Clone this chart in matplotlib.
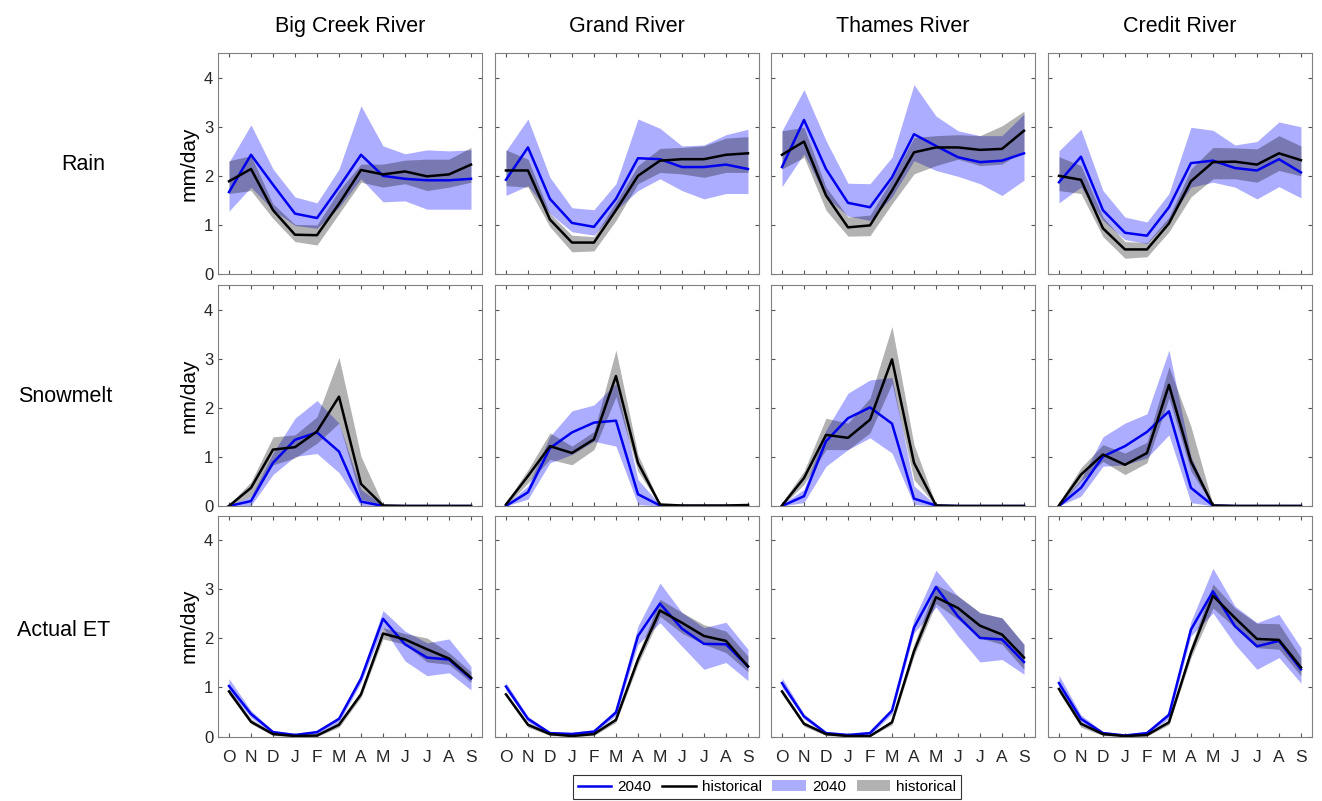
import matplotlib
matplotlib.use("Agg")
import matplotlib.pyplot as plt
from matplotlib.lines import Line2D
from matplotlib.patches import Patch
import numpy as np

plt.rcParams['font.family'] = ['Liberation Sans', 'DejaVu Sans']

months = ['O', 'N', 'D', 'J', 'F', 'M', 'A', 'M', 'J', 'J', 'A', 'S']
rivers = ['Big Creek River', 'Grand River', 'Thames River', 'Credit River']
variables = ['Rain', 'Snowmelt', 'Actual ET']

# --- Rain ---
bc_rain_2040 = [1.67, 2.43, 1.82, 1.23, 1.14, 1.77, 2.43, 2.00, 1.94, 1.91, 1.91, 1.94]
bc_rain_2040_lo = [1.28, 1.77, 1.30, 0.99, 0.93, 1.36, 1.94, 1.47, 1.49, 1.32, 1.32, 1.32]
bc_rain_2040_hi = [2.28, 3.04, 2.14, 1.57, 1.45, 2.14, 3.43, 2.61, 2.45, 2.53, 2.51, 2.53]
bc_rain_hist = [1.89, 2.14, 1.30, 0.80, 0.79, 1.43, 2.12, 2.03, 2.09, 1.99, 2.03, 2.23]
bc_rain_hist_lo = [1.64, 1.70, 1.13, 0.66, 0.59, 1.23, 1.87, 1.77, 1.84, 1.70, 1.77, 1.87]
bc_rain_hist_hi = [2.31, 2.41, 1.43, 1.01, 1.00, 1.70, 2.24, 2.24, 2.32, 2.34, 2.34, 2.58]

gr_rain_2040 = [1.92, 2.58, 1.53, 1.04, 0.96, 1.53, 2.36, 2.34, 2.18, 2.18, 2.23, 2.14]
gr_rain_2040_lo = [1.60, 1.80, 1.23, 0.86, 0.79, 1.30, 1.70, 1.94, 1.70, 1.53, 1.64, 1.64]
gr_rain_2040_hi = [2.51, 3.16, 1.97, 1.35, 1.31, 1.84, 3.16, 2.97, 2.61, 2.63, 2.84, 2.95]
gr_rain_hist = [2.11, 2.11, 1.11, 0.64, 0.64, 1.30, 2.00, 2.31, 2.34, 2.34, 2.43, 2.46]
gr_rain_hist_lo = [1.80, 1.77, 0.96, 0.45, 0.47, 1.09, 1.84, 2.07, 2.04, 1.97, 2.07, 2.07]
gr_rain_hist_hi = [2.53, 2.34, 1.23, 0.79, 0.76, 1.47, 2.21, 2.56, 2.58, 2.61, 2.77, 2.80]

th_rain_2040 = [2.18, 3.14, 2.14, 1.45, 1.36, 1.97, 2.85, 2.61, 2.38, 2.28, 2.31, 2.46]
th_rain_2040_lo = [1.78, 2.45, 1.57, 1.18, 1.09, 1.57, 2.31, 2.11, 1.99, 1.84, 1.60, 1.91]
th_rain_2040_hi = [2.92, 3.76, 2.72, 1.85, 1.84, 2.38, 3.86, 3.22, 2.92, 2.82, 2.82, 3.26]
th_rain_hist = [2.43, 2.70, 1.60, 0.95, 0.99, 1.70, 2.48, 2.58, 2.58, 2.53, 2.55, 2.92]
th_rain_hist_lo = [2.14, 2.38, 1.30, 0.77, 0.78, 1.43, 2.04, 2.21, 2.34, 2.21, 2.24, 2.51]
th_rain_hist_hi = [2.92, 2.99, 1.77, 1.16, 1.20, 1.94, 2.78, 2.82, 2.84, 2.82, 3.02, 3.32]

cr_rain_2040 = [1.87, 2.39, 1.30, 0.84, 0.78, 1.36, 2.26, 2.31, 2.16, 2.11, 2.34, 2.07]
cr_rain_2040_lo = [1.45, 1.77, 1.09, 0.70, 0.62, 1.09, 1.77, 1.87, 1.77, 1.53, 1.78, 1.55]
cr_rain_2040_hi = [2.51, 2.95, 1.70, 1.16, 1.06, 1.64, 2.99, 2.93, 2.63, 2.70, 3.10, 3.00]
cr_rain_hist = [2.00, 1.92, 0.93, 0.50, 0.50, 1.03, 1.89, 2.28, 2.29, 2.23, 2.46, 2.32]
cr_rain_hist_lo = [1.70, 1.64, 0.76, 0.32, 0.35, 0.86, 1.57, 1.94, 1.94, 1.87, 2.11, 2.00]
cr_rain_hist_hi = [2.39, 2.21, 1.16, 0.66, 0.64, 1.16, 2.14, 2.58, 2.57, 2.55, 2.82, 2.61]

# --- Snowmelt ---
bc_snow_2040 = [0.00, 0.10, 0.88, 1.35, 1.50, 1.11, 0.09, 0.00, 0, 0, 0, 0]
bc_snow_2040_lo = [0.00, 0.01, 0.64, 1.01, 1.07, 0.68, 0.00, 0.00, 0, 0, 0, 0]
bc_snow_2040_hi = [0.01, 0.20, 1.08, 1.79, 2.15, 1.69, 0.34, 0.01, 0, 0, 0, 0]
bc_snow_hist = [0.00, 0.37, 1.15, 1.20, 1.52, 2.23, 0.45, 0.01, 0, 0, 0, 0]
bc_snow_hist_lo = [0.00, 0.20, 0.84, 0.98, 1.28, 1.69, 0.14, 0.00, 0, 0, 0, 0]
bc_snow_hist_hi = [0.03, 0.49, 1.41, 1.45, 1.82, 3.03, 1.01, 0.03, 0, 0, 0, 0]

gr_snow_2040 = [0.00, 0.28, 1.18, 1.50, 1.70, 1.74, 0.24, 0.01, 0, 0, 0, 0]
gr_snow_2040_lo = [0.00, 0.14, 0.88, 1.05, 1.32, 1.22, 0.03, 0.00, 0, 0, 0, 0]
gr_snow_2040_hi = [0.03, 0.41, 1.42, 1.94, 2.06, 2.50, 0.54, 0.03, 0, 0, 0, 0]
gr_snow_hist = [0.03, 0.61, 1.22, 1.08, 1.36, 2.65, 0.88, 0.03, 0.01, 0.01, 0.01, 0.02]
gr_snow_hist_lo = [0.00, 0.47, 0.95, 0.84, 1.15, 2.23, 0.71, 0.01, 0, 0, 0, 0]
gr_snow_hist_hi = [0.07, 0.74, 1.49, 1.22, 1.52, 3.18, 1.05, 0.05, 0.02, 0.02, 0.02, 0.03]

th_snow_2040 = [0.00, 0.20, 1.32, 1.79, 2.01, 1.68, 0.15, 0.01, 0, 0, 0, 0]
th_snow_2040_lo = [0.00, 0.07, 0.81, 1.15, 1.39, 1.08, 0.03, 0.00, 0, 0, 0, 0]
th_snow_2040_hi = [0.03, 0.34, 1.55, 2.30, 2.57, 2.62, 0.41, 0.02, 0, 0, 0, 0]
th_snow_hist = [0.01, 0.57, 1.45, 1.39, 1.76, 2.99, 0.88, 0.01, 0, 0, 0, 0]
th_snow_hist_lo = [0.00, 0.44, 1.15, 1.15, 1.49, 2.50, 0.54, 0.00, 0, 0, 0, 0]
th_snow_hist_hi = [0.07, 0.71, 1.79, 1.69, 2.20, 3.66, 1.25, 0.03, 0, 0, 0, 0]

cr_snow_2040 = [0.00, 0.37, 1.01, 1.22, 1.51, 1.93, 0.37, 0.01, 0, 0, 0, 0]
cr_snow_2040_lo = [0.00, 0.20, 0.81, 0.84, 0.98, 1.45, 0.07, 0.00, 0, 0, 0, 0]
cr_snow_2040_hi = [0.03, 0.54, 1.41, 1.69, 1.88, 3.18, 1.01, 0.03, 0, 0, 0, 0]
cr_snow_hist = [0.01, 0.64, 1.05, 0.84, 1.08, 2.47, 0.91, 0.01, 0, 0, 0, 0]
cr_snow_hist_lo = [0.00, 0.51, 0.91, 0.64, 0.88, 2.20, 0.71, 0.00, 0, 0, 0, 0]
cr_snow_hist_hi = [0.07, 0.78, 1.25, 1.08, 1.30, 2.84, 1.62, 0.03, 0, 0, 0, 0]

# --- Actual ET ---
bc_et_2040 = [1.03, 0.46, 0.09, 0.03, 0.09, 0.36, 1.18, 2.40, 1.88, 1.61, 1.57, 1.18]
bc_et_2040_lo = [0.93, 0.39, 0.05, 0.01, 0.03, 0.29, 1.10, 2.22, 1.54, 1.24, 1.30, 0.95]
bc_et_2040_hi = [1.18, 0.53, 0.12, 0.07, 0.12, 0.41, 1.27, 2.57, 2.15, 1.91, 1.99, 1.43]
bc_et_hist = [0.92, 0.30, 0.05, 0.01, 0.02, 0.24, 0.86, 2.10, 1.98, 1.78, 1.59, 1.20]
bc_et_hist_lo = [0.86, 0.26, 0.02, 0.00, 0.00, 0.19, 0.80, 1.99, 1.88, 1.52, 1.47, 1.10]
bc_et_hist_hi = [0.97, 0.36, 0.07, 0.02, 0.03, 0.29, 0.93, 2.22, 2.10, 2.01, 1.71, 1.32]

gr_et_2040 = [1.02, 0.36, 0.07, 0.05, 0.10, 0.49, 2.05, 2.71, 2.20, 1.89, 1.88, 1.43]
gr_et_2040_lo = [0.95, 0.30, 0.03, 0.02, 0.07, 0.43, 1.88, 2.32, 1.84, 1.37, 1.51, 1.14]
gr_et_2040_hi = [1.10, 0.41, 0.10, 0.09, 0.14, 0.56, 2.25, 3.13, 2.53, 2.22, 2.33, 1.78]
gr_et_hist = [0.86, 0.24, 0.05, 0.01, 0.05, 0.34, 1.57, 2.57, 2.32, 2.05, 1.95, 1.43]
gr_et_hist_lo = [0.82, 0.19, 0.02, 0.00, 0.02, 0.29, 1.47, 2.45, 2.11, 1.88, 1.71, 1.32]
gr_et_hist_hi = [0.90, 0.28, 0.07, 0.03, 0.07, 0.39, 1.68, 2.80, 2.53, 2.28, 2.15, 1.64]

th_et_2040 = [1.09, 0.41, 0.07, 0.03, 0.07, 0.53, 2.22, 3.05, 2.45, 2.01, 1.98, 1.52]
th_et_2040_lo = [1.00, 0.36, 0.03, 0.01, 0.03, 0.46, 2.11, 2.64, 2.05, 1.52, 1.57, 1.27]
th_et_2040_hi = [1.20, 0.46, 0.10, 0.07, 0.10, 0.57, 2.40, 3.39, 2.86, 2.52, 2.42, 1.88]
th_et_hist = [0.92, 0.26, 0.05, 0.01, 0.01, 0.29, 1.74, 2.84, 2.62, 2.26, 2.08, 1.61]
th_et_hist_lo = [0.86, 0.21, 0.02, 0.00, 0.00, 0.24, 1.64, 2.71, 2.39, 2.01, 1.88, 1.37]
th_et_hist_hi = [0.97, 0.30, 0.07, 0.03, 0.03, 0.34, 1.88, 3.09, 2.87, 2.53, 2.42, 1.88]

cr_et_2040 = [1.09, 0.36, 0.07, 0.02, 0.07, 0.44, 2.18, 2.96, 2.25, 1.84, 1.95, 1.37]
cr_et_2040_lo = [0.98, 0.30, 0.03, 0.00, 0.03, 0.37, 2.05, 2.52, 1.88, 1.37, 1.61, 1.09]
cr_et_2040_hi = [1.25, 0.44, 0.10, 0.05, 0.10, 0.51, 2.35, 3.43, 2.66, 2.32, 2.49, 1.81]
cr_et_hist = [0.97, 0.26, 0.05, 0.01, 0.03, 0.29, 1.71, 2.87, 2.42, 1.99, 1.97, 1.41]
cr_et_hist_lo = [0.90, 0.19, 0.02, 0.00, 0.01, 0.24, 1.61, 2.62, 2.22, 1.81, 1.78, 1.24]
cr_et_hist_hi = [1.00, 0.30, 0.07, 0.03, 0.05, 0.34, 1.84, 3.11, 2.62, 2.31, 2.30, 1.61]

# (row, col) -> series
panels = {}
for r, var in enumerate(['rain', 'snow', 'et']):
    for c, riv in enumerate(['bc', 'gr', 'th', 'cr']):
        g = globals()
        pre = riv + '_' + var
        panels[(r, c)] = (g[pre + '_2040'], g[pre + '_2040_lo'], g[pre + '_2040_hi'],
                          g[pre + '_hist'], g[pre + '_hist_lo'], g[pre + '_hist_hi'])

fig = plt.figure(figsize=(13.22, 8.01), dpi=100)

lefts = [0.1649, 0.3744, 0.5832, 0.7927]
bottoms = [0.658, 0.3683, 0.0805]
w = 0.1997
h = 0.2755

x = np.arange(1, 13)
edge = '#808080'

for r in range(3):
    for c in range(4):
        ax = fig.add_axes([lefts[c], bottoms[r], w, h])
        m2, lo2, hi2, mh, loh, hih = panels[(r, c)]
        ax.fill_between(x, lo2, hi2, color='blue', alpha=0.32, linewidth=0)
        ax.fill_between(x, loh, hih, color='black', alpha=0.3, linewidth=0)
        ax.plot(x, m2, color='#0000ee', lw=1.8)
        ax.plot(x, mh, color='black', lw=1.8)
        ax.set_xlim(0.5, 12.5)
        ax.set_ylim(0, 4.5)
        ax.set_xticks(x)
        ax.set_yticks([0, 1, 2, 3, 4])
        ax.tick_params(direction='in', top=True, right=True, length=3,
                       color='#555555', labelsize=12, labelcolor='#262626')
        ax.tick_params(axis='x', pad=10)
        for s in ax.spines.values():
            s.set_color(edge)
            s.set_linewidth(0.8)
        if r == 2:
            ax.set_xticklabels(months, fontsize=12.5)
        else:
            ax.set_xticklabels([])
        if c == 0:
            ax.set_ylabel('mm/day', fontsize=15, labelpad=4)
        else:
            ax.set_yticklabels([])
        if r == 0:
            ax.set_title(rivers[c], fontsize=15.5, pad=15)

fig.text(83 / 1322, 1 - 165 / 801, 'Rain', fontsize=15.5, ha='center', va='center')
fig.text(65 / 1322, 1 - 397 / 801, 'Snowmelt', fontsize=15.5, ha='center', va='center')
fig.text(64 / 1322, 1 - 630 / 801, 'Actual ET', fontsize=15.5, ha='center', va='center')

handles = [Line2D([], [], color='#0000ee', lw=1.8),
           Line2D([], [], color='black', lw=1.8),
           Patch(facecolor='blue', alpha=0.32, edgecolor='none'),
           Patch(facecolor='black', alpha=0.3, edgecolor='none')]
leg = fig.legend(handles, ['2040', 'historical', '2040', 'historical'],
                 loc='center', bbox_to_anchor=(767 / 1322, 1 - 787 / 801), ncol=4,
                 fontsize=11, frameon=True, fancybox=False, handlelength=2.2,
                 handletextpad=0.4, columnspacing=0.7, borderpad=0.3,
                 borderaxespad=0.2)
leg.get_frame().set_edgecolor('black')
leg.get_frame().set_linewidth(0.8)

fig.savefig('out.png', dpi=100)
